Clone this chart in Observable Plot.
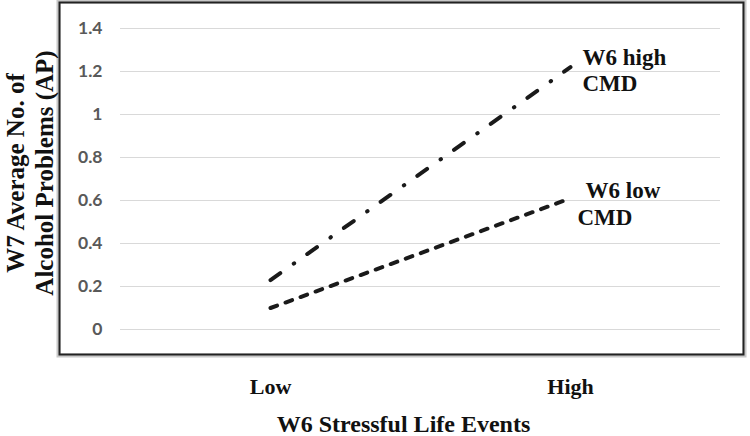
<!DOCTYPE html>
<html>
<head>
<meta charset="utf-8">
<script src="https://cdn.jsdelivr.net/npm/d3@7"></script>
<script src="https://cdn.jsdelivr.net/npm/@observablehq/plot@0.6"></script>
<style>
  html, body { margin: 0; padding: 0; background: #fff; }
  #chart { width: 750px; height: 436px; }
</style>
</head>
<body>
<div id="chart"></div>
<script>
const categories = ["Low", "High"];
const highCMD = [0.23, 1.22];
const lowCMD = [0.10, 0.61];
const yTicks = [0, 0.2, 0.4, 0.6, 0.8, 1, 1.2, 1.4];
const xTitle = "W6 Stressful Life Events";
const yTitle = "W7 Average No. of\nAlcohol Problems (AP)";
const highLabel = ["W6 high", "CMD"];
const lowLabel = ["W6 low", "CMD"];

const highData = categories.map((c, i) => ({cat: c, value: highCMD[i]}));
const lowData = categories.map((c, i) => ({cat: c, value: lowCMD[i]}));
const highEnd = highData[highData.length - 1];
const lowEnd = lowData[lowData.length - 1];

const serif = "'Liberation Serif', 'Times New Roman', serif";
const labelStyle = {fontFamily: serif, fontWeight: "bold", fontSize: 23, fill: "#111", textAnchor: "start", lineAnchor: "middle"};

const chart = Plot.plot({
  width: 750,
  height: 436,
  marginTop: 28,
  marginBottom: 107,
  marginLeft: 120,
  marginRight: 30,
  style: {fontFamily: serif, background: "#fff"},
  x: {type: "point", domain: categories, padding: 0.5},
  y: {domain: [0, 1.4]},
  marks: [
    Plot.frame({insetLeft: -62, insetRight: -24, insetTop: -27, insetBottom: -26, stroke: "#c8c8c8", strokeWidth: 4}),
    Plot.frame({insetLeft: -61, insetRight: -23, insetTop: -26, insetBottom: -25, stroke: "#222", strokeWidth: 2}),
    Plot.gridY(yTicks, {stroke: "#d9d9d9", strokeOpacity: 1, strokeWidth: 1.2}),
    Plot.axisY(yTicks, {
      tickSize: 0, tickPadding: 18, label: null,
      tickFormat: d => String(+d.toFixed(1)),
      fontFamily: "Lato, 'Open Sans', sans-serif", fontWeight: "bold", fontSize: 17.5, color: "#595959"
    }),
    Plot.axisX({
      tickSize: 0, tickPadding: 49, label: null,
      fontFamily: serif, fontWeight: "bold", fontSize: 22, color: "#111"
    }),
    Plot.line(highData, {x: "cat", y: "value", stroke: "#1a1a1a", strokeWidth: 4, strokeLinecap: "round", strokeDasharray: "12,16.5,0.5,16"}),
    Plot.line(lowData, {x: "cat", y: "value", stroke: "#1a1a1a", strokeWidth: 4, strokeLinecap: "round", strokeDasharray: "7,9"}),
    Plot.text([highLabel[0]], {x: () => highEnd.cat, y: () => highEnd.value, text: d => d, dx: 12, dy: -10, ...labelStyle}),
    Plot.text([highLabel[1]], {x: () => highEnd.cat, y: () => highEnd.value, text: d => d, dx: 12, dy: 16, ...labelStyle}),
    Plot.text([lowLabel[0]], {x: () => lowEnd.cat, y: () => lowEnd.value, text: d => d, dx: 15, dy: -8, ...labelStyle}),
    Plot.text([lowLabel[1]], {x: () => lowEnd.cat, y: () => lowEnd.value, text: d => d, dx: 7, dy: 19, ...labelStyle}),
    Plot.text([xTitle], {frameAnchor: "bottom", text: d => d, dx: -17, dy: 95, textAnchor: "middle", lineAnchor: "middle", fontFamily: serif, fontWeight: "bold", fontSize: 24, fill: "#111"}),
    Plot.text([yTitle], {frameAnchor: "left", text: d => d, rotate: -90, dx: -91, dy: -6, textAnchor: "middle", lineAnchor: "middle", lineHeight: 1.13, fontFamily: serif, fontWeight: "bold", fontSize: 25, fill: "#111"})
  ]
});
document.getElementById("chart").appendChild(chart);
</script>
</body>
</html>
